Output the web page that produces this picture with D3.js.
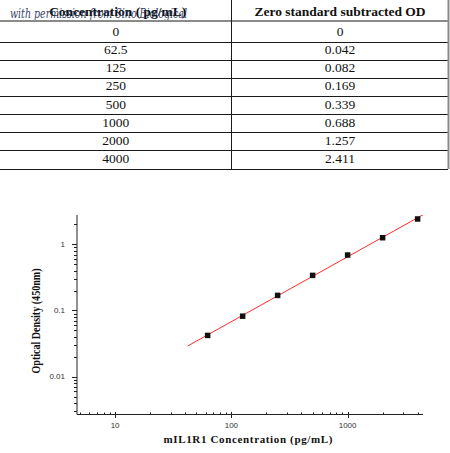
<!DOCTYPE html>
<html>
<head>
<meta charset="utf-8">
<script src="https://cdn.jsdelivr.net/npm/d3@7"></script>
<style>
  body { margin: 0; background: #fff; }
  svg { display: block; }
</style>
</head>
<body>
<div id="app"></div>
<script>
// table data
const headers = ["Concentration ( pg/mL)", "Zero standard subtracted OD"];
const concLabels = ["0", "62.5", "125", "250", "500", "1000", "2000", "4000"];
const concValues = [0, 62.5, 125, 250, 500, 1000, 2000, 4000];
const odLabels = ["0", "0.042", "0.082", "0.169", "0.339", "0.688", "1.257", "2.411"];
const odValues = [0, 0.042, 0.082, 0.169, 0.339, 0.688, 1.257, 2.411];
const xTickLabels = ["10", "100", "1000"];
const yTickLabels = ["0.01", "0.1", "1"];
const fitFrom = 42; // fitted curve starts here (pg/mL)

const W = 450, H = 453;
const svg = d3.select("#app").append("svg").attr("width", W).attr("height", H);
svg.append("rect").attr("width", W).attr("height", H).attr("fill", "#fff");

// ---------- table ----------
const colX = [0, 231.5, 448.5];
const row = d3.scaleBand().domain(d3.range(concLabels.length)).range([23.5, 168.5]);

const table = svg.append("g");
// header text
table.selectAll(".hdr")
  .data(headers)
  .enter()
  .append("text")
  .attr("x", (d, i) => (colX[i] + colX[i + 1]) / 2 + (i === 0 ? 2 : 0))
  .attr("y", 15.5)
  .attr("text-anchor", "middle")
  .attr("font-family", "Liberation Serif")
  .attr("font-weight", "bold")
  .attr("font-size", 13.5)
  .attr("fill", "#111")
  .text((d) => d);

// watermark
table.append("text")
  .attr("x", 10)
  .attr("y", 18)
  .attr("font-family", "DejaVu Serif")
  .attr("font-style", "italic")
  .attr("font-size", 12)
  .attr("fill", "#1e2c58")
  .attr("opacity", 0.9)
  .attr("textLength", 177)
  .attr("lengthAdjust", "spacingAndGlyphs")
  .text("with permission from Sino Biological");

// row lines
table.append("line")
  .attr("x1", 0).attr("x2", 448)
  .attr("y1", 21).attr("y2", 21)
  .attr("stroke", "#8a8a8a").attr("stroke-width", 2);
table.selectAll(".rl")
  .data(d3.range(concLabels.length))
  .enter()
  .append("line")
  .attr("x1", 0).attr("x2", 448)
  .attr("y1", (d) => Math.round(row(d) + row.bandwidth()) + 0.5)
  .attr("y2", (d) => Math.round(row(d) + row.bandwidth()) + 0.5)
  .attr("stroke", "#1a1a1a");
// vertical lines
table.append("line")
  .attr("x1", colX[1]).attr("x2", colX[1])
  .attr("y1", 0).attr("y2", 169)
  .attr("stroke", "#1a1a1a");
table.append("line")
  .attr("x1", colX[2]).attr("x2", colX[2])
  .attr("y1", 0).attr("y2", 169)
  .attr("stroke", "#8a8a8a").attr("stroke-width", 2);

// cells
const cols = [concLabels, odLabels];
cols.forEach((vals, c) => {
  table.selectAll(".c" + c)
    .data(vals)
    .enter()
    .append("text")
    .attr("x", (colX[c] + colX[c + 1]) / 2)
    .attr("y", (d, i) => row(i) + row.bandwidth() / 2 + 3.5)
    .attr("text-anchor", "middle")
    .attr("font-family", "Liberation Serif")
    .attr("font-size", 13.5)
    .attr("fill", "#111")
    .text((d) => d);
});

// ---------- chart ----------
const x = d3.scaleLog().domain([4.7, 4450]).range([77, 423]);
const y = d3.scaleLog().domain([0.00273, 2.77]).range([414, 215]);

const isMajor = (v) => Math.abs(Math.log10(v) - Math.round(Math.log10(v))) < 1e-9;

const chart = svg.append("g");

// y axis
chart.append("line")
  .attr("x1", 77).attr("x2", 77)
  .attr("y1", y.range()[1]).attr("y2", y.range()[0] + 0.5)
  .attr("stroke", "#222");
chart.selectAll(".yt")
  .data(y.ticks())
  .enter()
  .append("line")
  .attr("x1", 77)
  .attr("x2", (d) => (isMajor(d) ? 72 : 74))
  .attr("y1", (d) => Math.round(y(d)) + 0.5)
  .attr("y2", (d) => Math.round(y(d)) + 0.5)
  .attr("stroke", "#222");
chart.selectAll(".yl")
  .data(yTickLabels)
  .enter()
  .append("text")
  .attr("x", 65)
  .attr("y", (d) => y(+d))
  .attr("dy", "0.35em")
  .attr("text-anchor", "end")
  .attr("font-family", "Liberation Sans")
  .attr("font-size", 8)
  .attr("fill", "#333")
  .text((d) => d);

// x axis
chart.append("line")
  .attr("x1", 77).attr("x2", 423)
  .attr("y1", 414.5).attr("y2", 414.5)
  .attr("stroke", "#222");
chart.selectAll(".xt")
  .data(x.ticks())
  .enter()
  .append("line")
  .attr("x1", (d) => Math.round(x(d)) + 0.5)
  .attr("x2", (d) => Math.round(x(d)) + 0.5)
  .attr("y1", (d) => (isMajor(d) ? 412 : 412.5))
  .attr("y2", (d) => (isMajor(d) ? 418 : 414))
  .attr("stroke", "#222");
chart.selectAll(".xl")
  .data(xTickLabels)
  .enter()
  .append("text")
  .attr("x", (d) => x(+d))
  .attr("y", 428)
  .attr("text-anchor", "middle")
  .attr("font-family", "Liberation Sans")
  .attr("font-size", 8)
  .attr("fill", "#333")
  .text((d) => d);

// axis titles
chart.append("text")
  .attr("x", 248)
  .attr("y", 443)
  .attr("text-anchor", "middle")
  .attr("font-family", "Liberation Serif")
  .attr("font-weight", "bold")
  .attr("font-size", 11)
  .attr("fill", "#111")
  .attr("textLength", 169)
  .attr("lengthAdjust", "spacing")
  .text("mIL1R1 Concentration (pg/mL)");
chart.append("text")
  .attr("transform", "translate(39.5,321) rotate(-90)")
  .attr("text-anchor", "middle")
  .attr("font-family", "Liberation Serif")
  .attr("font-weight", "bold")
  .attr("font-size", 11.5)
  .attr("fill", "#111")
  .attr("textLength", 105)
  .attr("lengthAdjust", "spacingAndGlyphs")
  .text("Optical Density (450nm)");

// linear fit in log-log space
const pts = concValues
  .map((c, i) => ({ c: c, od: odValues[i] }))
  .filter((d) => d.c > 0 && d.od > 0);
const lx = pts.map((d) => Math.log10(d.c));
const ly = pts.map((d) => Math.log10(d.od));
const mx = d3.mean(lx), my = d3.mean(ly);
const slope = d3.sum(lx, (v, i) => (v - mx) * (ly[i] - my)) / d3.sum(lx, (v) => (v - mx) ** 2);
const icpt = my - slope * mx;
const fit = (c) => Math.pow(10, icpt + slope * Math.log10(c));

svg.append("clipPath").attr("id", "plotclip")
  .append("rect").attr("x", 77).attr("y", 215).attr("width", 346).attr("height", 199);

const fitX = [fitFrom, x.domain()[1]];
chart.append("path")
  .datum(fitX)
  .attr("clip-path", "url(#plotclip)")
  .attr("d", d3.line().x((d) => x(d)).y((d) => y(fit(d))))
  .attr("fill", "none")
  .attr("stroke", "#ff2a2a")
  .attr("stroke-width", 1);

// points
chart.selectAll(".pt")
  .data(pts)
  .enter()
  .append("rect")
  .attr("x", (d) => x(d.c) - 2.75)
  .attr("y", (d) => y(d.od) - 2.75)
  .attr("width", 5.5)
  .attr("height", 5.5)
  .attr("fill", "#111");
</script>
</body>
</html>
